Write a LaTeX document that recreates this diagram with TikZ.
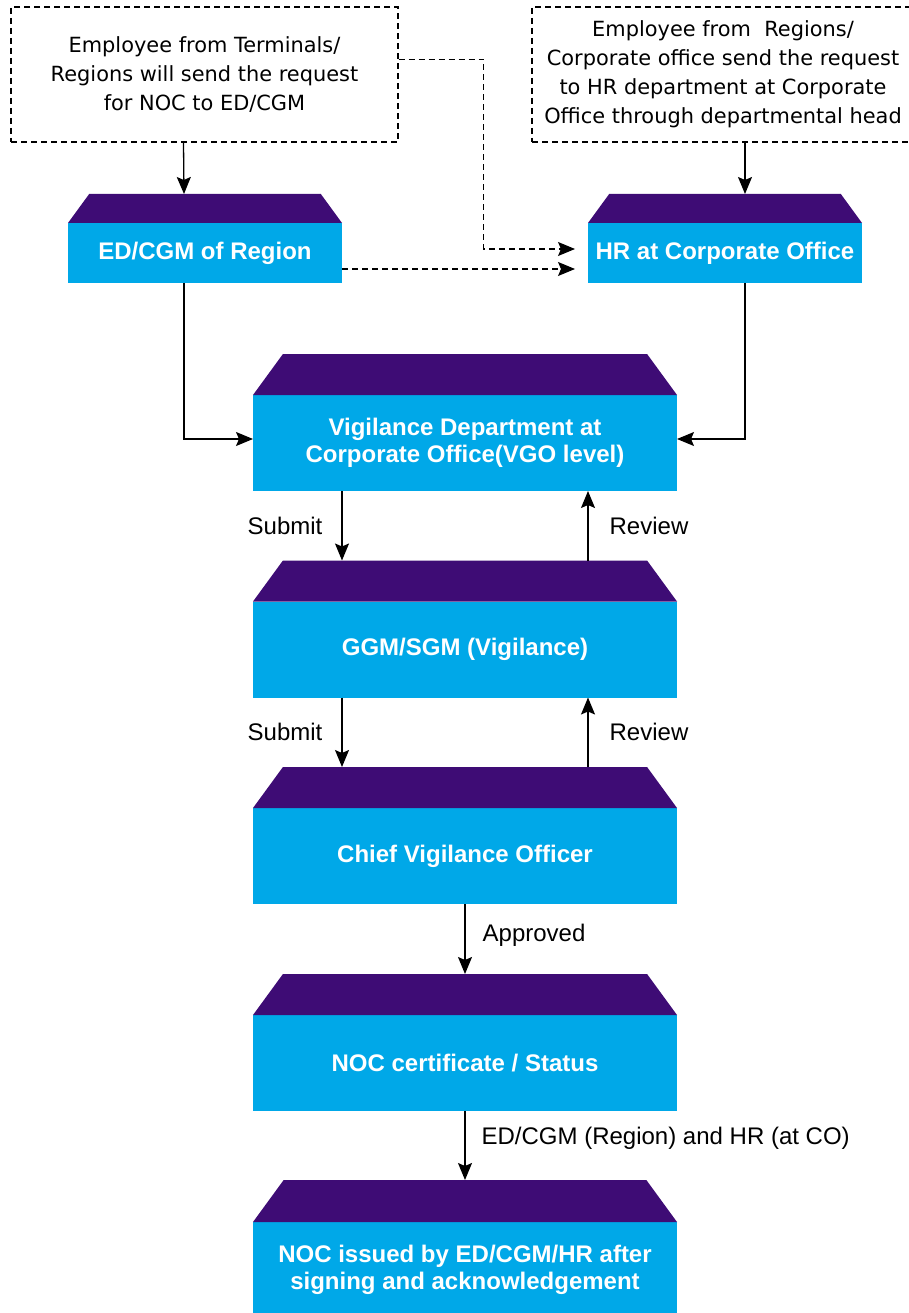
\documentclass[tikz,border=0pt]{standalone}
\usepackage{fontspec}
\setmainfont{Liberation Sans}
\newfontfamily\notefont{DejaVu Sans}
\usetikzlibrary{positioning,arrows.meta}
\definecolor{tierblue}{RGB}{0,168,232}
\definecolor{tiercap}{RGB}{62,12,117}

\begin{document}
\begin{tikzpicture}[x=1pt,y=-1pt,
	tier/.style={fill=tierblue, text=white, font=\fontsize{24}{27}\selectfont\bfseries, align=center, inner sep=0, outer sep=0},
	note/.style={draw, dash pattern=on 6pt off 4pt, line width=1.1pt, font=\notefont\fontsize{20.9}{29}\selectfont, align=center, inner sep=0},
	flow/.style={line width=1.3pt, -{Stealth[length=17pt,width=14pt,inset=3pt]}},
	dflow/.style={flow, line width=1.1pt, dash pattern=on 6pt off 4pt, shorten >=13pt},
	lbl/.style={font=\fontsize{24}{27}\selectfont, inner sep=0}]
	\useasboundingbox (0,0) rectangle (908,1313);

	\node[note, minimum width=387, minimum height=135] (reqreg) at (204.5,74.5) {Employee from Terminals/\\Regions will send the request\\for NOC to ED/CGM};
	\node[note, minimum width=382, minimum height=135] (reqco) at (723,74.5) {Employee from\ \ Regions/\\Corporate office send the request\\to HR department at Corporate\\Office through departmental head};

	\node[tier, minimum width=274, minimum height=60] (edcgm) at (205,253) {ED/CGM of Region};
	\node[tier, minimum width=274, minimum height=60] (hr) at (725,253) {HR at Corporate Office};
	\node[tier, minimum width=424, minimum height=96] (vig) at (465,443) {Vigilance Department at\\Corporate Office(VGO level)};
	\node[tier, minimum width=424, minimum height=96] (ggm) at (465,649.5) {GGM/SGM (Vigilance)};
	\node[tier, minimum width=424, minimum height=96] (cvo) at (465,856) {Chief Vigilance Officer};
	\node[tier, minimum width=424, minimum height=96] (cert) at (465,1063) {NOC certificate / Status};
	\node[tier, minimum width=424, minimum height=96] (issued) at (465,1270) {NOC issued by ED/CGM/HR after\\signing and acknowledgement};

	% purple roof on each box
	\foreach \n/\h in {edcgm/29, hr/29, vig/41, ggm/41, cvo/41, cert/41, issued/42}{
		\fill[tiercap] (\n.north west) -- ++({0.73*\h},-\h) -- ([xshift={-0.73*\h},yshift=\h]\n.north east) -- (\n.north east) -- cycle;
		\coordinate (\n-top) at ([yshift=\h]\n.north);
	}

	\draw[flow] ([xshift=-21]reqreg.south) -- ([xshift=-21]edcgm-top);
	\draw[flow] ([xshift=20]hr-top |- reqco.south) -- ([xshift=20]hr-top);
	\draw[dflow] ([yshift=15]reqreg.east) -- ++(85,0) |- ([yshift=4]hr.west);
	\draw[dflow] ([yshift=-16]edcgm.east) -- ([yshift=-16]hr.west);
	\draw[flow] ([xshift=-21]edcgm.south) |- ([yshift=4]vig.west);
	\draw[flow] ([xshift=20]hr.south) |- ([yshift=4]vig.east);

	\draw[flow] ([xshift=-123]vig.south) -- node[lbl, left=19pt] {Submit} ([xshift=-123]ggm-top);
	\draw[flow] ([xshift=123]ggm-top) -- node[lbl, right=21pt] {Review} ([xshift=123]vig.south);
	\draw[flow] ([xshift=-123]ggm.south) -- node[lbl, left=19pt] {Submit} ([xshift=-123]cvo-top);
	\draw[flow] ([xshift=123]cvo-top) -- node[lbl, right=21pt] {Review} ([xshift=123]ggm.south);
	\draw[flow] (cvo.south) -- node[lbl, right=17pt, pos=0.45] {Approved} (cert-top);
	\draw[flow] (cert.south) -- node[lbl, right=16pt, pos=0.4] {ED/CGM (Region) and HR (at CO)} (issued-top);
\end{tikzpicture}
\end{document}
